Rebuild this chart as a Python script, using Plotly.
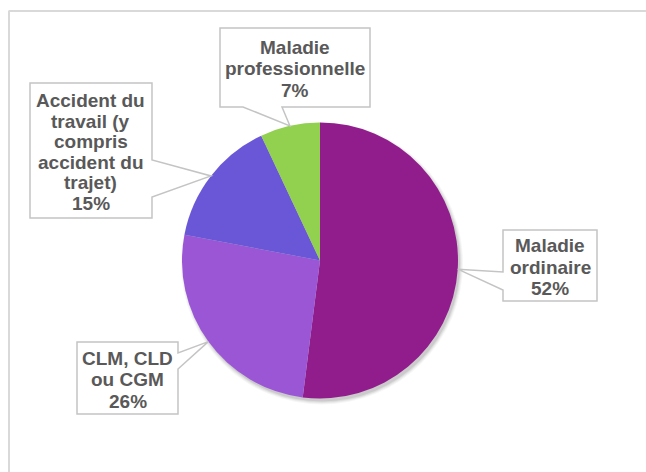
import math
import plotly.graph_objects as go

# Répartition des jours d'absence par motif
categories = [
    "Maladie ordinaire",
    "CLM, CLD ou CGM",
    "Accident du travail (y compris accident du trajet)",
    "Maladie professionnelle",
]
label_lines = [
    ["Maladie", "ordinaire"],
    ["CLM, CLD", "ou CGM"],
    ["Accident du", "travail (y", "compris", "accident du", "trajet)"],
    ["Maladie", "professionnelle"],
]
values = [52, 26, 15, 7]
colors = ["#911D8D", "#9B56D6", "#6957D8", "#92D050"]

W, H = 646, 472
CX, CY, R = 320, 260.5, 138  # pie centre / radius in pixels

# Callout boxes: rectangle (x0, y0, x1, y1), side carrying the pointer,
# the two pointer base coordinates along that side, and text line spacing.
boxes = [
    dict(rect=(503, 230, 597, 301), side="left", base=(272, 290), dy=21.5),
    dict(rect=(77, 342, 178, 414), side="right", base=(353, 369), dy=21.5),
    dict(rect=(30, 83, 152, 218), side="right", base=(160, 197), dy=20.6),
    dict(rect=(220, 28, 370, 107), side="bottom", base=(243, 282), dy=21.5),
]

TEXT_COLOR = "#595959"
BOX_LINE = "#C4C4C4"
FONT = "Liberation Sans"


def px(x):
    return x / W


def py(y):
    return 1 - y / H


def path_from(points):
    return "M " + " L ".join(f"{px(x):.5f},{py(y):.5f}" for x, y in points) + " Z"


fig = go.Figure()

# soft drop shadow under the pie
for k, alpha in [(5, 0.035), (4, 0.045), (3, 0.06), (2, 0.08)]:
    sx, sy, sr = CX + 2, CY + 3, R + k - 2
    fig.add_trace(go.Pie(
        values=[1], marker=dict(colors=[f"rgba(0,0,0,{alpha})"], line=dict(width=0)),
        textinfo="none", hoverinfo="skip", showlegend=False, sort=False,
        domain=dict(x=[px(sx - sr), px(sx + sr)], y=[py(sy + sr), py(sy - sr)]),
    ))

fig.add_trace(go.Pie(
    labels=categories,
    values=values,
    sort=False,
    direction="clockwise",
    rotation=0,
    marker=dict(colors=colors, line=dict(width=0)),
    textinfo="none",
    showlegend=False,
    domain=dict(x=[px(CX - R), px(CX + R)], y=[py(CY + R), py(CY - R)]),
))

total = sum(values)
cum = 0
shapes = []
annotations = []
for lines, v, box in zip(label_lines, values, boxes):
    mid = (cum + v / 2) / total * 2 * math.pi
    cum += v
    tip = (CX + R * math.sin(mid), CY - R * math.cos(mid))
    x0, y0, x1, y1 = box["rect"]
    b1, b2 = box["base"]
    if box["side"] == "left":
        pts = [(x0, y0), (x1, y0), (x1, y1), (x0, y1), (x0, b2), tip, (x0, b1)]
    elif box["side"] == "right":
        pts = [(x0, y0), (x1, y0), (x1, b1), tip, (x1, b2), (x1, y1), (x0, y1)]
    else:  # bottom
        pts = [(x0, y0), (x1, y0), (x1, y1), (b2, y1), tip, (b1, y1), (x0, y1)]
    shapes.append(dict(type="path", path=path_from(pts), xref="paper", yref="paper",
                       fillcolor="white", line=dict(color=BOX_LINE, width=1.5), layer="above"))

    all_lines = lines + [f"{v / total * 100:.0f}%"]
    n = len(all_lines)
    cxb = (x0 + x1) / 2
    cyb = (y0 + y1) / 2 + 1.5
    for i, t in enumerate(all_lines):
        ly = cyb + (i - (n - 1) / 2) * box["dy"]
        annotations.append(dict(
            text=t, x=px(cxb), y=py(ly), xref="paper", yref="paper",
            xanchor="center", yanchor="middle", showarrow=False,
            font=dict(family=FONT, size=19, color=TEXT_COLOR, weight="bold"),
        ))

# frame: top and left rules
shapes.append(dict(type="line", xref="paper", yref="paper",
                   x0=px(8.5), x1=px(W), y0=py(11), y1=py(11),
                   line=dict(color="#D9D9D9", width=2)))
shapes.append(dict(type="line", xref="paper", yref="paper",
                   x0=px(9), x1=px(9), y0=py(11), y1=py(H),
                   line=dict(color="#D9D9D9", width=2)))

fig.update_layout(
    width=W, height=H,
    margin=dict(l=0, r=0, t=0, b=0),
    paper_bgcolor="white",
    plot_bgcolor="white",
    shapes=shapes,
    annotations=annotations,
)

fig.write_html("out.html")
